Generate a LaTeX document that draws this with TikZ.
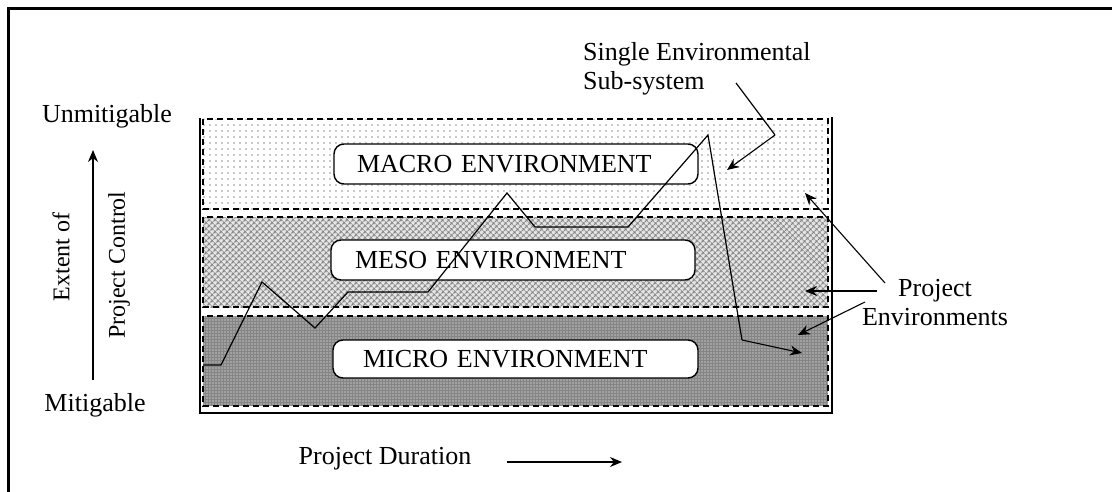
\documentclass[tikz,border=0pt]{standalone}
\usepackage{fontspec}
\setmainfont{Liberation Serif}
\usetikzlibrary{arrows.meta,patterns,patterns.meta}
\begin{document}
\begin{tikzpicture}[x=1pt,y=-1pt,
  lbl/.style={font=\fontsize{26}{29}\selectfont, inner sep=0pt},
  sidelbl/.style={font=\fontsize{24}{27}\selectfont, inner sep=0pt, rotate=90},
  envbox/.style={draw, line width=1.4pt, fill=white, rounded corners=10pt,
    font=\fontsize{26}{29}\selectfont, align=left, inner xsep=0pt, inner ysep=0pt},
  band/.style={draw, dash pattern=on 6pt off 4pt, line width=1.3pt},
  frameline/.style={line width=2pt},
  trace/.style={line width=1.2pt},
  arr/.style={-{Stealth[length=12pt,width=10pt]}, line width=1.1pt}]
\useasboundingbox (0,0) rectangle (1112,491);
% outer frame (only top and left edges visible)
\draw[line width=3pt] (8,495) -- (8,8) -- (1116,8);

% bands
\path[preaction={fill=white}, pattern={Dots[distance=6pt,radius=0.85pt]}, pattern color=gray!85]
  (203,119) rectangle (828,209);
\draw[band] (203,119) rectangle (828,209);
\path[preaction={fill=gray!18}, pattern={Hatch[angle=45,distance=4pt,line width=1.1pt]}, pattern color=gray!95]
  (203,217) rectangle (828,307);
\draw[band] (203,217) rectangle (828,307);
\path[preaction={fill=black!48}, pattern={Dots[distance=3pt,radius=0.55pt]}, pattern color=white]
  (203,316) rectangle (828,406);
\draw[band] (203,316) rectangle (828,406);

% chart frame
\draw[frameline] (200,118) -- (200,413) -- (832,413) -- (832,117);

% environment boxes
\node[envbox, text width=364pt, minimum height=40pt] (macro) at (516,164) {\hspace*{23pt}MACRO ENVIRONMENT};
\node[envbox, text width=364pt, minimum height=40pt] (meso) at (513,260) {\hspace*{24pt}MESO ENVIRONMENT};
\node[envbox, text width=365pt, minimum height=38pt] (micro) at (515.5,359) {\hspace*{30pt}MICRO ENVIRONMENT};

% single environmental sub-system trace
\coordinate (z1) at (203,365);
\coordinate (z2) at (221,365);
\coordinate (z3) at (262,282);
\coordinate (z4) at (315,328);
\coordinate (z5) at (348,292);
\coordinate (z6) at (428,292);
\coordinate (z7) at (507,193);
\coordinate (z8) at (535,227);
\coordinate (z9) at (628,227);
\coordinate (z10) at (708,135);
\coordinate (z11) at (742,340);
\coordinate (z12) at (802,353);
\draw[trace] (z1) -- (z2) -- (z3) -- (z4) -- (z5) -- (z6) -- (z7) -- (z8) -- (z9) -- (z10) -- (z11);
\draw[arr] (z11) -- (z12);

% labels
\node[lbl] (unmit) at (107,116) {Unmitigable};
\node[lbl] (mit) at (95,405) {Mitigable};
\node[sidelbl] (extent) at (61,257) {Extent of};
\node[sidelbl] (pcontrol) at (119,265) {Project Control};
\coordinate (upstart) at (93,380);
\coordinate (uptip) at (93,150);
\draw[arr] (upstart) -- (uptip);

\node[lbl] (duration) at (385,459) {Project Duration};
\coordinate (durstart) at (507,462);
\coordinate (durtip) at (622,462);
\draw[arr] (durstart) -- (durtip);

\node[lbl, align=left, anchor=north west] (single) at (583,42) {Single Environmental\\Sub-system};
\coordinate (s1) at (736,83);
\coordinate (s2) at (775,135);
\coordinate (s3) at (727,170);
\draw[trace] (s1) -- (s2);
\draw[arr] (s2) -- (s3);

\node[lbl, align=center] (projenv) at (935,303) {Project\\Environments};
\coordinate (p1) at (885,283);
\coordinate (p1t) at (805,193);
\coordinate (p2) at (877,291);
\coordinate (p2t) at (805,291);
\coordinate (p3) at (865,302);
\coordinate (p3t) at (798,335);
\draw[arr] (p1) -- (p1t);
\draw[arr] (p2) -- (p2t);
\draw[arr] (p3) -- (p3t);
\end{tikzpicture}
\end{document}
